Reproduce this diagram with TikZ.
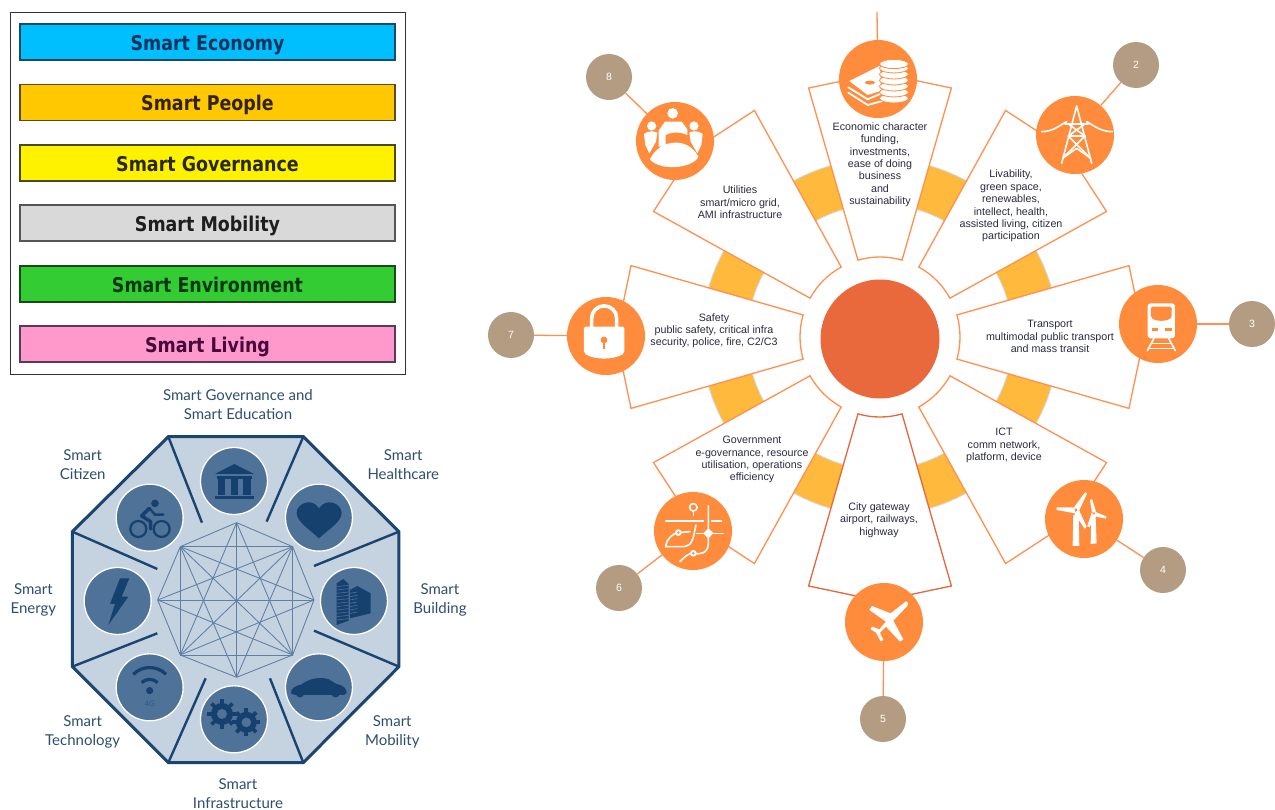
\documentclass[tikz,border=0pt]{standalone}
\usepackage{fontspec}
\setmainfont{Liberation Sans}
\newfontfamily\legendfont[FakeStretch=0.86]{DejaVu Sans}
\newfontfamily\octfont{Lato}
\definecolor{orng}{HTML}{FF8B3D}
\definecolor{petalc}{HTML}{FF9050}
\definecolor{petald}{HTML}{E8663A}
\definecolor{hubc}{HTML}{EA693C}
\definecolor{yel}{HTML}{FFB93C}
\definecolor{taupe}{HTML}{B49C82}
\definecolor{ptxt}{HTML}{2A2B40}
\definecolor{octfill}{HTML}{C5D2E0}
\definecolor{octline}{HTML}{1A4570}
\definecolor{octthin}{HTML}{5F7FA3}
\definecolor{octcirc}{HTML}{4F7299}
\definecolor{octicon}{HTML}{16406E}
\definecolor{octtxt}{HTML}{2F4F6F}
\tikzset{
  z/.style 2 args={shift={(#1pt,-#2pt)},x=.3333pt,y=-.3333pt},
  legbar/.style={minimum width=375pt,minimum height=36pt,inner sep=0pt,line width=1.5pt,
     text height=16pt,text depth=0pt,
     font=\legendfont\bfseries\fontsize{20.3}{20.3}\selectfont,anchor=center},
  petal/.style={draw=petalc,fill=white,line width=1.3pt,line join=miter},
  iconnode/.style={circle,fill=orng,minimum size=78pt,inner sep=0pt},
  numnode/.style={circle,fill=taupe,minimum size=46pt,inner sep=0pt,text=white,font=\fontsize{10.5}{10.5}\selectfont},
  link/.style={draw=petalc,line width=1.3pt},
  ptext/.style={align=center,text=ptxt,inner sep=0pt,yshift=-.7pt,font=\fontsize{10.7}{12.4}\selectfont},
  otext/.style={align=center,text=octtxt,inner sep=0pt,font=\octfont\fontsize{15}{19}\selectfont},
  ocirc/.style={circle,fill=octcirc,draw=white,line width=1.3pt,minimum size=67pt,inner sep=0pt},
  wl/.style={draw=white,line width=1.6pt,line cap=round,line join=round},
  dl/.style={draw=octicon,line width=2pt,line cap=round,line join=round},
}
\begin{document}
\begin{tikzpicture}[x=1pt,y=-1pt]
\useasboundingbox (0,0) rectangle (1275,809);
\clip (0,0) rectangle (1275,809);
\fill[white] (0,0) rectangle (1275,809);

% ---------- legend
\draw[draw=black!80,line width=1pt] (10,12) rectangle (405,374);
\node[legbar,fill={rgb,255:red,0;green,191;blue,255},draw={rgb,255:red,26;green,74;blue,106},text={rgb,255:red,8;green,50;blue,90}] (lg1) at (207.5,42) {Smart Economy};
\node[legbar,fill={rgb,255:red,255;green,200;blue,0},draw={rgb,255:red,90;green,74;blue,32},text={rgb,255:red,50;green,35;blue,5}] (lg2) at (207.5,102.5) {Smart People};
\node[legbar,fill=yellow,draw={rgb,255:red,74;green,74;blue,16},text={rgb,255:red,40;green,40;blue,5}] (lg3) at (207.5,163) {Smart Governance};
\node[legbar,fill={rgb,255:red,217;green,217;blue,217},draw={rgb,255:red,85;green,85;blue,85},text={rgb,255:red,30;green,30;blue,30}] (lg4) at (207.5,223) {Smart Mobility};
\node[legbar,fill={rgb,255:red,51;green,204;blue,51},draw={rgb,255:red,26;green,74;blue,26},text={rgb,255:red,5;green,55;blue,20}] (lg5) at (207.5,284) {Smart Environment};
\node[legbar,fill={rgb,255:red,255;green,153;blue,204},draw={rgb,255:red,90;green,58;blue,90},text={rgb,255:red,70;green,10;blue,60}] (lg6) at (207.5,344) {Smart Living};

% ---------- octagon (coordinates of a 3x crop at 0,380)
\begin{scope}[z={0}{380}]
\coordinate (o1) at (505,170); \coordinate (o2) at (910,170);
\coordinate (o3) at (1197,455); \coordinate (o4) at (1197,860);
\coordinate (o5) at (910,1148); \coordinate (o6) at (505,1148);
\coordinate (o7) at (217,860); \coordinate (o8) at (217,455);
\coordinate (s1) at (606,428); \coordinate (s2) at (800,425);
\coordinate (s3) at (942,558); \coordinate (s4) at (942,752);
\coordinate (s5) at (810,895); \coordinate (s6) at (617,895);
\coordinate (s7) at (472,760); \coordinate (s8) at (472,567);
\coordinate (k1) at (710,428); \coordinate (k2) at (878,500);
\coordinate (k3) at (942,660); \coordinate (k4) at (878,825);
\coordinate (k5) at (710,892); \coordinate (k6) at (541,825);
\coordinate (k7) at (473,660); \coordinate (k8) at (541,500);
\draw[fill=octfill,draw=octline,line width=3pt,line join=miter]
  (o1)--(o2)--(o3)--(o4)--(o5)--(o6)--(o7)--(o8)--cycle;
\foreach \i in {1,...,8}{\draw[octline,line width=2.4pt] (o\i)--(s\i);}
\foreach \i/\j in {1/2,1/4,1/5,1/6,1/8,2/3,2/4,2/5,2/6,2/7,2/8,3/4,3/6,3/7,3/8,4/5,4/6,4/7,4/8,5/6,5/8,6/7,6/8,7/8}{\draw[octthin,line width=.85pt] (k\i)--(k\j);}

\node[ocirc] (c1) at (702,303) {};
\node[ocirc] (c2) at (957,413) {};
\node[ocirc] (c3) at (1062,663) {};
\node[ocirc] (c4) at (957,922) {};
\node[ocirc] (c5) at (702,1018) {};
\node[ocirc] (c6) at (449,922) {};
\node[ocirc] (c7) at (353,663) {};
\node[ocirc] (c8) at (449,413) {};

% temple
\fill[octicon] (645,282)--(703,252)--(762,282)--cycle;
\fill[octicon] (650,288) rectangle (756,296);
\foreach \x in {665,703,741}{\fill[octicon] (\x-11,298) rectangle (\x+11,345);}
\fill[octicon] (645,349) rectangle (762,357);
% heart
\fill[octicon] (957,475) .. controls (925,445) and (890,425) .. (890,398) .. controls (890,372) and (935,350) .. (957,385) .. controls (980,350) and (1025,372) .. (1025,398) .. controls (1025,425) and (990,445) .. (957,475) -- cycle;
% buildings
\fill[octicon] (1010,610) -- (1030,597) -- (1046,612) -- (1046,722) -- (1010,735) -- cycle;
\foreach \y in {620,630,...,720}{\draw[octcirc,line width=.6pt] (1010,\y) -- (1046,\y-4);}
\fill[octicon] (1050,630) -- (1072,618) -- (1112,640) -- (1112,700) -- (1050,715) -- cycle;
\foreach \y in {640,650,...,700}{\draw[octcirc,line width=.6pt] (1050,\y) -- (1072,\y-4);}
% car
\fill[octicon] (873,940) .. controls (873,925) and (885,918) .. (905,913) .. controls (925,898) and (950,892) .. (975,895) .. controls (990,897) and (1000,908) .. (1010,912) .. controls (1030,916) and (1040,925) .. (1040,940) -- (1030,945) -- (885,945) -- cycle;
\fill[octicon] (900,940) circle[radius=4.2pt];
\fill[octicon] (1007,940) circle[radius=4.2pt];
% gears
\foreach \cx/\cy/\ro/\rb/\rh in {666/1002/14.8/11/5,739/1027/14/10.5/4.8}{
  \foreach \t in {0,45,...,315}{\draw[octicon,line width=3.8pt] ([shift={(\cx,\cy)}]\t:7pt) -- ([shift={(\cx,\cy)}]\t:\ro pt);}
  \fill[octicon] (\cx,\cy) circle[radius=\rb pt];
  \fill[octcirc] (\cx,\cy) circle[radius=\rh pt];
}
% wifi
\draw[octicon,line width=3.2pt] (400,883) arc[start angle=135,end angle=45,radius=23.1pt];
\draw[octicon,line width=3.2pt] (425,908) arc[start angle=135,end angle=45,radius=11.3pt];
\fill[octicon] (449,932) circle[radius=3.6pt];
\node[text={rgb,255:red,46;green,90;blue,136},inner sep=0pt,font=\fontsize{8}{8}\selectfont] (fourg) at (450,970) {4G};
% bolt
\fill[octicon] (360,595)--(388,595)--(365,650)--(385,650)--(325,735)--(345,672)--(330,672)--cycle;
% cyclist
\draw[octicon,line width=2.2pt] (415,447) circle[radius=8pt];
\draw[octicon,line width=2.2pt] (485,447) circle[radius=8pt];
\fill[octicon] (465,370) circle[radius=3.8pt];
\draw[dl,line width=3.4pt] (448,385)--(425,408)--(452,425)--(452,447);
\draw[dl,line width=2.4pt] (448,385)--(465,404)--(490,404);

\node[otext] (l1) at (714,75) {Smart Governance and\\Smart Education};
\node[otext] (l2) at (1210,255) {Smart\\Healthcare};
\node[otext] (l3) at (1320,660) {Smart\\Building};
\node[otext] (l4) at (1177,1056) {Smart\\Mobility};
\node[otext] (l5) at (714,1241) {Smart\\Infrastructure};
\node[otext] (l6) at (248,1056) {Smart\\Technology};
\node[otext] (l7) at (100,660) {Smart\\Energy};
\node[otext] (l8) at (248,255) {Smart\\Citizen};
\end{scope}

% ---------- radial diagram
\coordinate (C) at (880,337);
\coordinate (ic1) at (878,79);  \coordinate (ic2) at (1075,135);
\coordinate (ic3) at (1158,324);\coordinate (ic4) at (1084,519);
\coordinate (ic5) at (884,622); \coordinate (ic6) at (693,531);
\coordinate (ic7) at (606,336); \coordinate (ic8) at (675,141);
\coordinate (stub) at (877,12);

\draw[yel,line width=45pt] (C) circle[radius=155.5pt];
\draw[black!18,line width=.8pt] (C) circle[radius=178.3pt];
\draw[black!18,line width=.8pt] (C) circle[radius=132.7pt];

\foreach \i/\a/\col in {1/90/petalc,2/45/petalc,3/0/petalc,4/-45/petalc,6/-135/petalc,7/180/petalc,8/135/petalc,5/-90/petald}{
  \draw[petal,draw=\col] ([shift={(880,337)}]\a+16:80pt) -- ([shift={(880,337)}]\a+16:259pt) -- ([shift={(880,337)}]\a:264pt)
    -- ([shift={(880,337)}]\a-16:259pt) -- ([shift={(880,337)}]\a-16:80pt)
    arc[start angle=\a-16,end angle=\a+16,radius=80pt] -- cycle;
}

\node[circle,fill=hubc,minimum size=119pt,inner sep=0pt] (hub) at (880,339) {};

\foreach \i in {1,...,8}{\node[iconnode] (icon\i) at (ic\i) {};}
\node[numnode] (num2) at (1136,65) {2};
\node[numnode] (num3) at (1252,324) {3};
\node[numnode] (num4) at (1163,570) {4};
\node[numnode] (num5) at (883,719) {5};
\node[numnode] (num6) at (619,588) {6};
\node[numnode] (num7) at (511,335) {7};
\node[numnode] (num8) at (609,77) {8};
\draw[link] (icon1) -- (stub);
\foreach \i in {2,...,8}{\draw[link] (icon\i) -- (num\i);}

\node[ptext] (t1) at (880,164) {Economic character\\funding,\\investments,\\ease of doing\\business\\and\\sustainability};
\node[ptext] (t2) at (1011,205.5) {Livability,\\green space,\\renewables,\\intellect, health,\\assisted living, citizen\\participation};
\node[ptext] (t3) at (1050,336) {Transport\\multimodal public transport\\and mass transit};
\node[ptext] (t4) at (1004,445) {ICT\\comm network,\\platform, device};
\node[ptext] (t5) at (879,519.5) {City gateway\\airport, railways,\\highway};
\node[ptext] (t6) at (752,459) {Government\\e-governance, resource\\utilisation, operations\\efficiency};
\node[ptext] (t7) at (714,330) {Safety\\public safety, critical infra\\security, police, fire, C2/C3};
\node[ptext] (t8) at (740,201.5) {Utilities\\smart/micro grid,\\AMI infrastructure};

% coins and notes
\begin{scope}[z={570}{0}]
\draw[wl,line width=1.8pt] (835,262)--(893,298)--(935,280);
\draw[wl,line width=1.8pt] (835,278)--(893,315)--(960,297);
\fill[white] (838,243)--(930,197)--(935,272)--(893,285)--cycle;
\fill[orng] (900,248) ellipse[x radius=5pt,y radius=2pt];
\foreach \y in {295,277,259,241,223,205,192}{
  \fill[white,draw=orng,line width=.8pt] (972,\y) ellipse[x radius=14.5pt,y radius=4.6pt];
}
% people
\fill[white] (308,340) circle[radius=5.3pt];
\fill[white] (245,378) circle[radius=4.6pt];
\fill[white] (372,378) circle[radius=4.6pt];
\fill[white] (240,478) .. controls (270,415) and (355,410) .. (385,470) .. controls (370,505) and (270,515) .. cycle;
\fill[white] (222,402) .. controls (235,392) and (250,392) .. (262,398) -- (258,425) -- (238,460) -- (226,435) -- cycle;
\fill[white] (358,398) .. controls (370,392) and (385,392) .. (398,402) -- (394,435) -- (382,460) -- (362,425) -- cycle;
\fill[white] (266,392) -- (285,365) -- (335,365) -- (352,388) -- (352,405) .. controls (330,395) and (305,395) .. (287,405) -- (287,440) -- (266,440) -- cycle;
\end{scope}

\begin{scope}[z={880}{20}]
% pylon
\draw[wl] (590,258)--(545,430) (590,258)--(635,430);
\draw[wl] (555,312)--(625,312) (565,348)--(615,348);
\draw[wl] (565,312)--(615,348) (615,312)--(565,348);
\draw[wl] (565,348)--(632,415) (615,348)--(548,415);
\draw[wl] (548,415)--(590,385)--(632,415);
\draw[wl] (485,335) .. controls (520,335) and (540,315) .. (560,305);
\draw[wl] (697,335) .. controls (660,335) and (640,315) .. (620,305);
% train
\fill[white,rounded corners=3pt] (803,850) rectangle (885,955);
\fill[orng,rounded corners=1.5pt] (813,860) -- (875,860) -- (875,892) .. controls (860,905) and (828,905) .. (813,892) -- cycle;
\fill[orng] (815,925) rectangle (835,933);
\fill[orng] (855,925) rectangle (875,933);
\draw[wl] (822,955)--(802,992) (866,955)--(886,992);
\draw[wl] (815,970)--(873,970) (806,985)--(882,985);
\end{scope}

\begin{scope}[z={800}{400}]
% turbines
\fill[white] (820,345)--(836,345)--(838,438)--(818,438)--cycle;
\fill[white] (874,350)--(887,350)--(890,430)--(872,432)--cycle;
\fill[white] (822,322)--(856,276)--(861,281)--(836,335)--cycle;
\fill[white] (825,322)--(770,322)--(770,330)--(825,340)--cycle;
\fill[white] (822,338)--(836,328)--(860,380)--(854,386)--cycle;
\fill[orng] (828,330) circle[radius=1.6pt];
\fill[white] (876,336)--(870,300)--(877,298)--(888,335)--cycle;
\fill[white] (880,333)--(920,350)--(917,356)--(880,348)--cycle;
\fill[white] (876,336)--(888,348)--(868,382)--(862,378)--cycle;
\fill[orng] (882,340) circle[radius=1.2pt];
% plane
\fill[white] (318,604) .. controls (325,605) and (327,612) .. (322,618) -- (280,662) -- (310,718) -- (300,725) -- (258,680) -- (240,698) -- (250,720) -- (242,724) -- (228,698) -- (212,688) -- (216,680) -- (238,688) -- (258,665) -- (208,630) -- (216,618) -- (272,640) -- cycle;
\end{scope}

\begin{scope}[z={480}{260}]
% padlock
\draw[white,line width=3.6pt] (335,205) -- (335,175) arc[start angle=180,end angle=0,radius=12.5pt] -- (410,205);
\fill[white,rounded corners=2pt] (312,200) -- (433,200) -- (433,280) .. controls (400,300) and (345,300) .. (312,280) -- cycle;
\fill[orng] (372,240) circle[radius=3.4pt];
\draw[orng,line width=1.4pt] (372,240)--(372,268);
% map lines
\draw[wl] (640,742) circle[radius=3.8pt];
\draw[wl] (640,754)--(640,766);
\draw[wl] (557,783)--(670,783) (695,783)--(725,783);
\draw[wl] (650,820)--(730,820);
\draw[wl] (685,737)--(685,850) .. controls (685,880) and (660,885) .. (640,880) .. controls (625,878) and (610,895) .. (600,905);
\draw[wl] (557,860) .. controls (560,835) and (580,820) .. (595,818) -- (630,815);
\draw[wl] (557,860) -- (610,860) .. controls (640,858) and (640,830) .. (648,795);
\fill[white] (685,805)--(700,820)--(685,836)--(670,820)--cycle;
\fill[white] (595,818) circle[radius=3.4pt];
\fill[white] (640,880) circle[radius=3.4pt];
\fill[orng] (595,818) circle[radius=1.4pt];
\fill[orng] (640,880) circle[radius=1.4pt];
\end{scope}
\end{tikzpicture}
\end{document}
